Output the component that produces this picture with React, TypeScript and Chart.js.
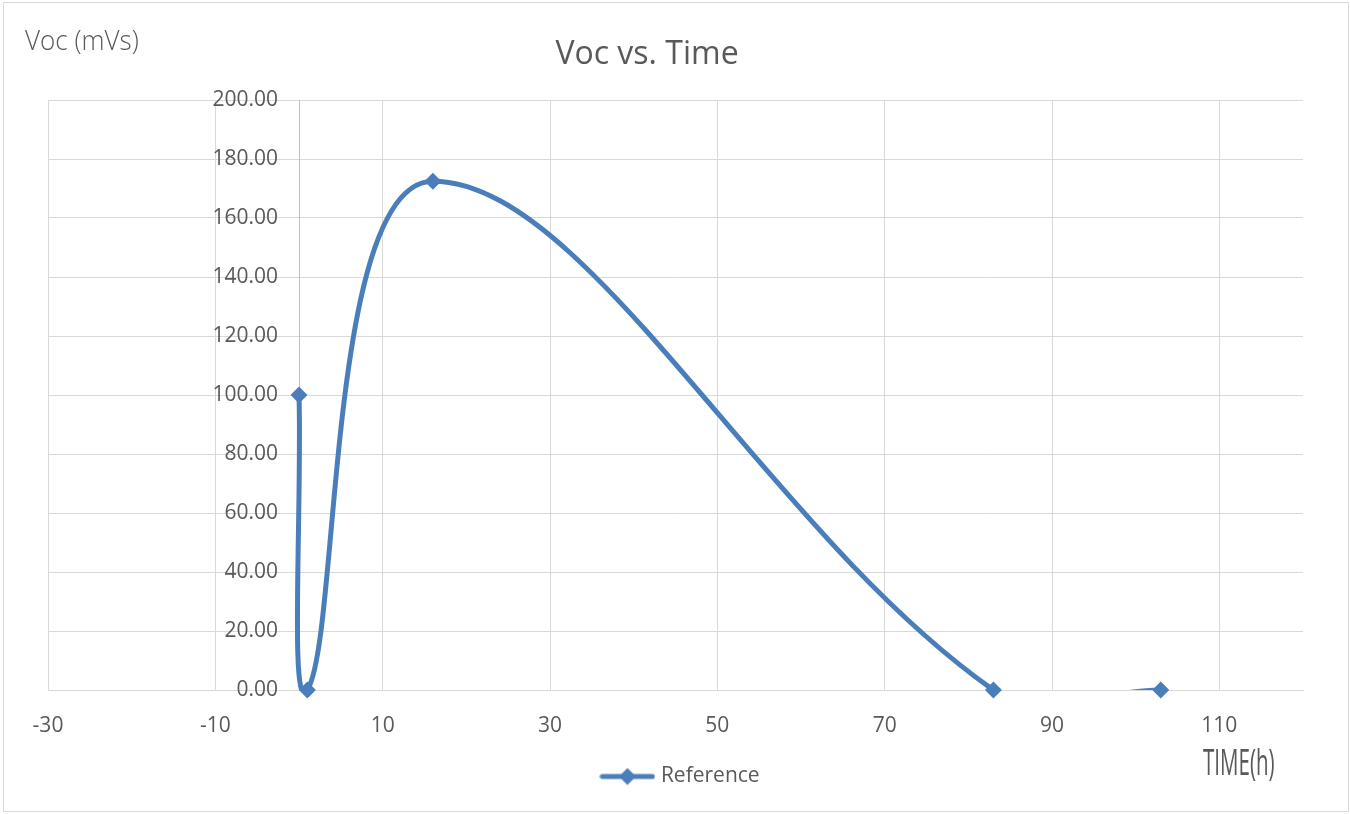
import React, { useEffect, useRef } from 'react';
import { Chart, registerables } from 'chart.js';

Chart.register(...registerables);

const timeHours = [0, 1, 16, 83, 103];
const vocValues = [100, 0, 172.5, 0, 0];
const xTickValues = [-30, -10, 10, 30, 50, 70, 90, 110];
const yTickValues = [0, 20, 40, 60, 80, 100, 120, 140, 160, 180, 200];
const seriesName = 'Reference';
const chartTitle = 'Voc vs. Time';
const yAxisLabel = 'Voc (mVs)';
const xAxisLabel = 'TIME(h)';

const LINE_COLOR = '#4A7EBB';
const TEXT_COLOR = '#595959';

const decorPlugin = {
  id: 'decor',
  afterLayout(chart: any) {
    const tb = chart.titleBlock;
    if (tb) {
      tb.left -= 28.5;
      tb.right -= 28.5;
    }
    const lg = chart.legend;
    if (lg) {
      lg.left += 6.5;
      lg.right += 6.5;
    }
  },
  beforeDraw(chart: any) {
    const ctx = chart.ctx;
    ctx.save();
    ctx.fillStyle = '#ffffff';
    ctx.fillRect(0, 0, chart.width, chart.height);
    ctx.strokeStyle = '#d9d9d9';
    ctx.lineWidth = 1;
    ctx.strokeRect(3.5, 2.5, 1345, 809);
    ctx.restore();
    // move the y tick labels a little away from the axis that crosses at x = 0
    const ys = chart.scales.y;
    if (ys && !ys._labelsShifted) {
      const items = ys.getLabelItems(chart.chartArea);
      items.forEach((it: any) => {
        it.options.translation[0] -= 21;
      });
      ys._labelsShifted = true;
    }
  },
  afterDraw(chart: any) {
    const ctx = chart.ctx;
    ctx.save();
    ctx.fillStyle = TEXT_COLOR;
    ctx.textBaseline = 'alphabetic';
    ctx.textAlign = 'left';
    ctx.font = '300 28px "Open Sans"';
    ctx.save();
    ctx.translate(25, 50);
    ctx.scale(0.93, 1);
    ctx.fillText(yAxisLabel, 0, 0);
    ctx.restore();
    ctx.font = '36px "Open Sans"';
    ctx.save();
    ctx.translate(1203, 775);
    ctx.scale(0.57, 1);
    ctx.fillText(xAxisLabel, 0, 0);
    ctx.restore();
    ctx.restore();
  },
};

export default function App() {
  const canvasRef = useRef<HTMLCanvasElement | null>(null);

  useEffect(() => {
    if (!canvasRef.current) return;
    const legendImg = document.createElement('canvas');
    legendImg.width = 56;
    legendImg.height = 18;
    const lctx = legendImg.getContext('2d')!;
    lctx.strokeStyle = LINE_COLOR;
    lctx.lineWidth = 5;
    lctx.lineCap = 'round';
    lctx.beginPath();
    lctx.moveTo(3, 9);
    lctx.lineTo(53, 9);
    lctx.stroke();
    lctx.fillStyle = LINE_COLOR;
    lctx.beginPath();
    lctx.moveTo(28, 0.5);
    lctx.lineTo(36.5, 9);
    lctx.lineTo(28, 17.5);
    lctx.lineTo(19.5, 9);
    lctx.closePath();
    lctx.fill();

    const points = timeHours.map((t, i) => ({ x: t, y: vocValues[i] }));

    const chart = new Chart(canvasRef.current, {
      type: 'line',
      data: {
        datasets: [
          {
            label: seriesName,
            data: points,
            borderColor: LINE_COLOR,
            backgroundColor: LINE_COLOR,
            borderWidth: 5,
            borderCapStyle: 'round',
            borderJoinStyle: 'round',
            pointRadius: 0,
            pointStyle: legendImg as any,
            tension: 0.38,
            fill: false,
            clip: { left: false, top: false, right: false, bottom: 0 } as any,
          },
          {
            label: seriesName + ' markers',
            data: points,
            showLine: false,
            pointStyle: 'rectRot',
            pointRadius: 8.5,
            pointBackgroundColor: LINE_COLOR,
            pointBorderColor: LINE_COLOR,
            pointBorderWidth: 0,
            clip: false as any,
          },
        ],
      },
      options: {
        animation: false,
        responsive: false,
        events: [],
        layout: { padding: { left: 48, right: 47, top: 0, bottom: 17 } },
        elements: { line: { capBezierPoints: false } },
        font: { family: '"Open Sans"' },
        plugins: {
          tooltip: { enabled: false },
          title: {
            display: true,
            text: chartTitle,
            color: TEXT_COLOR,
            font: { family: '"Open Sans"', size: 32, weight: 'normal' },
            padding: { top: 36, bottom: 25.6 },
          },
          legend: {
            display: true,
            position: 'bottom',
            labels: {
              usePointStyle: true,
              pointStyleWidth: 46,
              color: TEXT_COLOR,
              font: { family: '"Open Sans"', size: 21 },
              filter: (item: any) => item.datasetIndex === 0,
            },
          },
        },
        scales: {
          x: {
            type: 'linear',
            min: -30,
            max: 120,
            afterBuildTicks: (scale: any) => {
              scale.ticks = xTickValues.map((v) => ({ value: v }));
            },
            afterFit: (scale: any) => {
              scale.height = 66;
            },
            grid: { color: '#d9d9d9', lineWidth: 1, drawTicks: false },
            border: { display: true, color: '#d9d9d9', width: 1 },
            ticks: {
              color: TEXT_COLOR,
              font: { family: '"Open Sans"', size: 21 },
              padding: 23,
              maxRotation: 0,
              autoSkip: false,
            },
          },
          y: {
            type: 'linear',
            position: { x: 0 } as any,
            min: 0,
            max: 200,
            afterBuildTicks: (scale: any) => {
              scale.ticks = yTickValues.map((v) => ({ value: v }));
            },
            grid: { color: '#d9d9d9', lineWidth: 1, drawTicks: false },
            border: { display: true, color: '#bfbfbf', width: 1 },
            ticks: {
              color: TEXT_COLOR,
              font: { family: '"Open Sans"', size: 21 },
              padding: 0,
              callback: (v: any) => Number(v).toFixed(2),
            },
          },
        },
      },
      plugins: [decorPlugin],
    } as any);

    return () => {
      chart.destroy();
    };
  }, []);

  return (
    <div style={{ position: 'absolute', left: 0, top: 0, width: 1350, height: 814 }}>
      <canvas ref={canvasRef} width={1350} height={814} style={{ display: 'block', width: 1350, height: 814 }} />
    </div>
  );
}
